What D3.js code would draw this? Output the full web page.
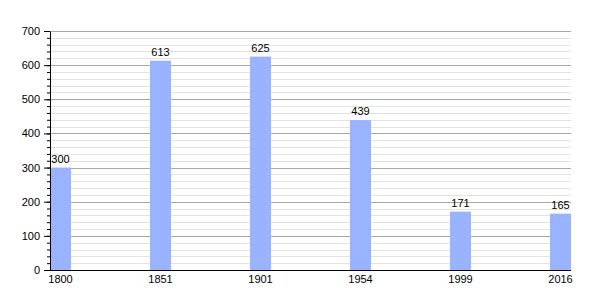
<!DOCTYPE html>
<html>
<head>
<meta charset="utf-8">
<script src="https://cdn.jsdelivr.net/npm/d3@7"></script>
<style>
  body { margin: 0; background: #fff; }
  text { font-family: "Liberation Sans", Arial, sans-serif; }
</style>
</head>
<body>
<div id="chart"></div>
<script>
"use strict";

var years = ["1800", "1851", "1901", "1954", "1999", "2016"];
var population = [300, 613, 625, 439, 171, 165];
var yTicks = [0, 100, 200, 300, 400, 500, 600, 700];

var width = 600, height = 300;
var plotLeft = 50, plotRight = 571, plotTop = 31, plotBottom = 270;

var svg = d3.select("#chart").append("svg")
  .attr("width", width)
  .attr("height", height);

var x = d3.scaleBand()
  .domain(years)
  .range([plotLeft, plotRight])
  .paddingInner(0.79)
  .paddingOuter(0);

var y = d3.scaleLinear()
  .domain([0, 700])
  .range([plotBottom, plotTop]);

// minor gridlines every 20
var minor = d3.range(20, 701, 20).filter(function (v) { return v % 100 != 0; });
svg.append("g").selectAll("line")
  .data(minor)
  .enter().append("line")
  .attr("x1", plotLeft).attr("x2", plotRight)
  .attr("y1", function (d) { return Math.round(y(d)) + 0.5; })
  .attr("y2", function (d) { return Math.round(y(d)) + 0.5; })
  .attr("stroke", "#e3e3e3");

// major gridlines
svg.append("g").selectAll("line")
  .data(yTicks.slice(1))
  .enter().append("line")
  .attr("x1", plotLeft).attr("x2", plotRight)
  .attr("y1", function (d) { return Math.round(y(d)) + 0.5; })
  .attr("y2", function (d) { return Math.round(y(d)) + 0.5; })
  .attr("stroke", "#a8a8a8");

// bars
svg.append("g").selectAll("rect")
  .data(population)
  .enter().append("rect")
  .attr("x", function (d, i) { return x(years[i]); })
  .attr("width", x.bandwidth())
  .attr("y", function (d) { return y(d); })
  .attr("height", function (d) { return y(0) - y(d); })
  .attr("fill", "#99b3ff");

// value labels
svg.append("g").selectAll("text")
  .data(population)
  .enter().append("text")
  .attr("x", function (d, i) { return x(years[i]) + x.bandwidth() / 2; })
  .attr("y", function (d) { return y(d) - 5; })
  .attr("text-anchor", "middle")
  .attr("font-size", 11)
  .text(function (d) { return d; });

// y axis minor ticks
svg.append("g")
  .attr("transform", "translate(" + plotLeft + ",0)")
  .call(d3.axisLeft(y).tickValues(d3.range(0, 701, 20)).tickSize(3).tickFormat(""))
  .call(function (g) { g.select(".domain").remove(); });

// y axis major
var yAxis = svg.append("g")
  .attr("transform", "translate(" + plotLeft + ",0)")
  .call(d3.axisLeft(y).tickValues(yTicks).tickSize(6).tickPadding(4).tickSizeOuter(0));
yAxis.selectAll("text").attr("font-size", 11).attr("font-family", "Liberation Sans, Arial, sans-serif");

// x axis
var xAxis = svg.append("g")
  .attr("transform", "translate(0," + plotBottom + ")")
  .call(d3.axisBottom(x).tickSize(0).tickPadding(5).tickSizeOuter(0));
xAxis.select(".domain").attr("d", "M" + plotLeft + ",0.5H" + plotRight);
xAxis.selectAll("text").attr("font-size", 11).attr("font-family", "Liberation Sans, Arial, sans-serif");
</script>
</body>
</html>
